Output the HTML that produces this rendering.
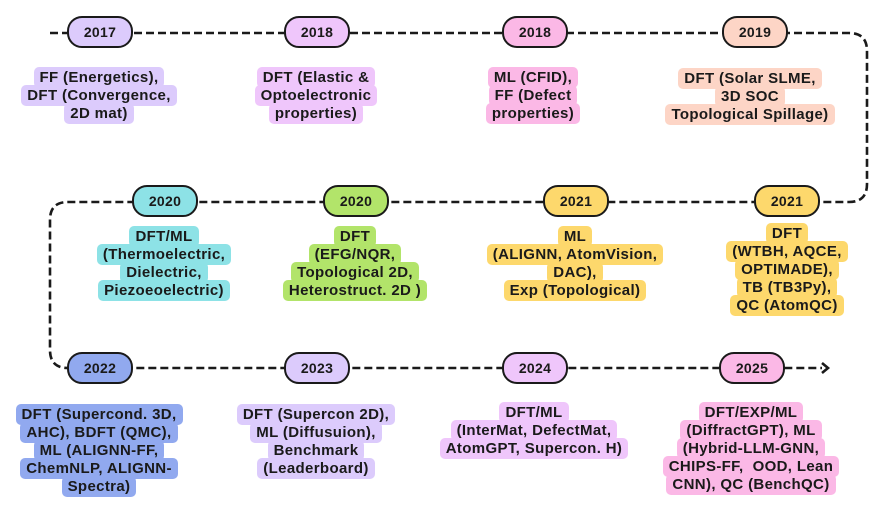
<!DOCTYPE html>
<html><head><meta charset="utf-8"><style>
body{margin:0;width:886px;height:508px;background:#fff;position:relative;overflow:hidden;font-family:"Liberation Sans",sans-serif;font-weight:bold;color:#1a1a1a}
svg{position:absolute;left:0;top:0}
.pill{position:absolute;width:62px;height:28px;border:2px solid #1a1a1a;border-radius:15px;text-align:center;line-height:28px;font-size:14px;letter-spacing:0.3px}
.txt{position:absolute;width:240px;margin-left:-120px;text-align:center;font-size:15px;line-height:18px;letter-spacing:0.35px}
.txt span{padding:2px 6px;border-radius:5px;-webkit-box-decoration-break:clone;box-decoration-break:clone}
</style></head><body>
<svg width="886" height="508">
<path d="M50,33 H849 Q867,33 867,51 V184 Q867,202 849,202 H68 Q50,202 50,220 V350 Q50,368 68,368 H822" fill="none" stroke="#1a1a1a" stroke-width="2.6" stroke-dasharray="8,4"/>
<path d="M822,363 L828,368 L822,373" fill="none" stroke="#1a1a1a" stroke-width="2.6"/>
</svg>
<div id="root"></div>
<script>
const items=[
 [67,16,'2017','#dccbfc',99,69,'FF (Energetics),<br>DFT (Convergence,<br>2D mat)'],
 [284,16,'2018','#efc6fb',316,69,'DFT (Elastic &amp;<br>Optoelectronic<br>properties)'],
 [502,16,'2018','#fbb8e6',533,69,'ML (CFID),<br>FF (Defect<br>properties)'],
 [722,16,'2019','#fdd5c6',750,70,'DFT (Solar SLME,<br>3D SOC<br>Topological Spillage)'],
 [132,185,'2020','#8de2e6',164,228,'DFT/ML<br>(Thermoelectric,<br>Dielectric,<br>Piezoeoelectric)'],
 [323,185,'2020','#b2e46a',355,228,'DFT<br>(EFG/NQR,<br>Topological 2D,<br>Heterostruct. 2D )'],
 [543,185,'2021','#fdd86c',575,228,'ML<br>(ALIGNN, AtomVision,<br>DAC),<br>Exp (Topological)'],
 [754,185,'2021','#fdd86c',787,225,'DFT<br>(WTBH, AQCE,<br>OPTIMADE),<br>TB (TB3Py),<br>QC (AtomQC)'],
 [67,352,'2022','#91a9ef',99,406,'DFT (Supercond. 3D,<br>AHC), BDFT (QMC),<br>ML (ALIGNN-FF,<br>ChemNLP, ALIGNN-<br>Spectra)'],
 [284,352,'2023','#dccbfc',316,406,'DFT (Supercon 2D),<br>ML (Diffusuion),<br>Benchmark<br>(Leaderboard)'],
 [502,352,'2024','#efc6fb',534,404,'DFT/ML<br>(InterMat, DefectMat,<br>AtomGPT, Supercon. H)'],
 [719,352,'2025','#fbb8e6',751,404,'DFT/EXP/ML<br>(DiffractGPT), ML<br>(Hybrid-LLM-GNN,<br>CHIPS-FF,&nbsp; OOD, Lean<br>CNN), QC (BenchQC)']
];
const root=document.getElementById('root');
items.forEach(it=>{
 const p=document.createElement('div');p.className='pill';
 
 
 p.style.left=it[0]+'px';p.style.top=it[1]+'px';p.style.background=it[3];p.textContent=it[2];
 root.appendChild(p);
 const t=document.createElement('div');t.className='txt';
 
 
 t.style.left=it[4]+'px';t.style.top=it[5]+'px';
 t.innerHTML='<span style="background:'+it[3]+'">'+it[6]+'</span>';
 root.appendChild(t);
});
</script>
</body></html>
